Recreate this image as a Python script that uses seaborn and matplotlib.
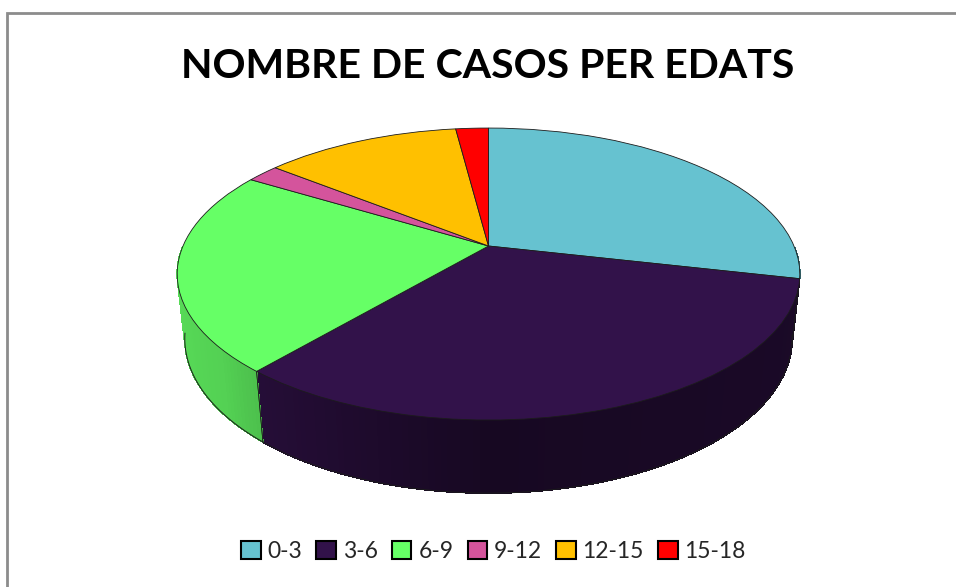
import matplotlib
matplotlib.use('Agg')
import matplotlib.pyplot as plt
from matplotlib.patches import Patch
from matplotlib.transforms import Transform
import numpy as np
import seaborn as sns

# ===== dades =====
edats = ['0-3', '3-6', '6-9', '9-12', '12-15', '15-18']
casos = [14, 16, 11, 1, 6, 1]
colors = ['#66C2D0', '#32124A', '#66FF66', '#D4549C', '#FFC000', '#FF0000']
titol = 'NOMBRE DE CASOS PER EDATS'

sns.set_theme(style='white')
plt.rcParams['font.family'] = ['Lato', 'DejaVu Sans']
palette = sns.color_palette(colors)


# camera for the fake 3d disc, z=0 is the top face and z=1 the bottom one
class Disc(Transform):
    input_dims = 2
    output_dims = 2
    has_inverse = False

    def __init__(self, z=0.0):
        super().__init__()
        self.z = z

    def transform_non_affine(self, values):
        values = np.asarray(values)
        x, y = values[:, 0], values[:, 1]
        w = 1 + 0.192 * y + 0.024 * self.z
        return np.column_stack((488.5 + 305.5 * x / w, 246 + (-140.6 * y + 65 * self.z) / w))


def wall_shade(angle):
    # angle in degrees from the pie; 0 = right, -90 = front, -180 = left
    a = (angle + 360) % 360
    return np.interp(a, [180, 220, 240, 270, 300, 360], [0.88, 0.82, 0.68, 0.46, 0.50, 0.55])


fig = plt.figure(figsize=(9.56, 5.87), dpi=100)
ax = fig.add_axes([0, 0, 1, 1])

wedges, _ = ax.pie(casos, colors=palette, startangle=90, counterclock=False,
                   wedgeprops={'edgecolor': '#1c1c1c', 'linewidth': 0.6, 'zorder': 5})
ax.set_aspect('auto')
ax.set_xlim(0, 956)
ax.set_ylim(587, 0)
ax.axis('off')

top = Disc(0) + ax.transData
low = Disc(1) + ax.transData

# side wall, built from the wedge angles
for wedge, c in zip(wedges, palette):
    t1, t2 = sorted((wedge.theta1, wedge.theta2))
    angles = np.linspace(t1, t2, max(int(t2 - t1), 2) + 1)
    for a, b in zip(angles[:-1], angles[1:]):
        th = np.radians([a, b])
        px, py = np.cos(th), np.sin(th)
        if py.max() > 0.0:
            continue
        shade = wall_shade((a + b) / 2)
        col = tuple(v * shade for v in c)
        quad_top = top.transform(np.column_stack((px, py)))
        quad_low = low.transform(np.column_stack((px, py)))[::-1]
        quad = np.vstack((quad_top, quad_low))
        ax.fill(quad[:, 0], quad[:, 1], transform=None, facecolor=col, edgecolor=col,
                linewidth=0.5, antialiased=False, zorder=2)
    # outline of the bottom rim and of the wedge ends
    th = np.radians(np.linspace(t1, t2, 120))
    px, py = np.cos(th), np.sin(th)
    keep = py < -0.15
    if keep.any():
        rim = low.transform(np.column_stack((px[keep], py[keep])))
        ax.plot(rim[:, 0], rim[:, 1], transform=None, color='#1c1c1c', lw=0.7, zorder=3)
    for t in (t1, t2):
        r = np.radians(t)
        if np.sin(r) < 0.0:
            end = np.array([[np.cos(r), np.sin(r)]])
            seg = np.vstack((top.transform(end), low.transform(end)))
            ax.plot(seg[:, 0], seg[:, 1], transform=None, color='#1c1c1c', lw=0.5, zorder=3)

for wedge in wedges:
    wedge.set_transform(top)

# frame of the original chart
ax.plot([7, 7, 956], [587, 13, 13], color='#8c8c8c', lw=2, zorder=1, solid_joinstyle='miter')

ax.text(488, 67, titol, ha='center', va='center', fontsize=29.5, fontweight='bold', color='black')

handles = [Patch(facecolor=c, edgecolor='black', linewidth=1.5) for c in palette]
ax.legend(handles, edats, ncol=6, loc='center', bbox_to_anchor=(0.5162, 0.0610),
          frameon=False, fontsize=16.5, handlelength=0.85, handleheight=0.85,
          handletextpad=0.3, columnspacing=0.62, labelcolor='#262626')

fig.savefig('out.png', dpi=100)
